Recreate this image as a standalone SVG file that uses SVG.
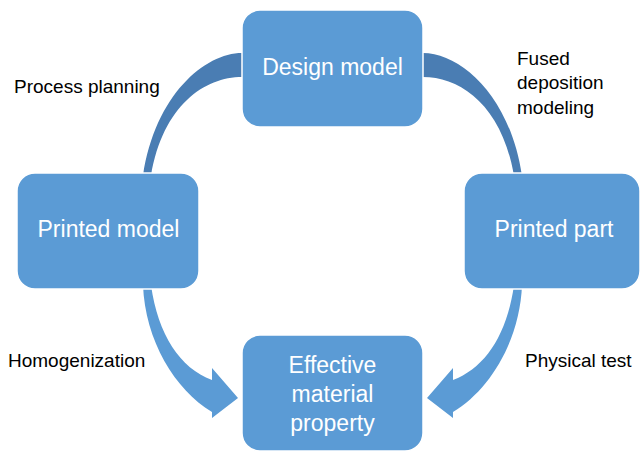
<svg xmlns="http://www.w3.org/2000/svg" width="641" height="452" viewBox="0 0 641 452">
  <style>
    .box { fill: #5b9bd5; stroke: #ffffff; stroke-width: 1.5; }
    .box-text { font-family: "Liberation Sans", Arial, sans-serif; font-size: 23px; fill: #ffffff; text-anchor: middle; }
    .label { font-family: "Liberation Sans", Arial, sans-serif; font-size: 19px; fill: #000000; }
    .arc-dark { fill: #4a7db3; }
    .arrow-light { fill: #5b9bd5; }
  </style>
  <rect width="641" height="452" fill="#ffffff"/>

  <!-- connectors: curved bands and arrows between the stages -->
  <g id="connectors">
    <!-- Design model -> Printed model (left band) -->
    <path id="arc-process-planning" class="arc-dark" d="M 250,53 L 242,53 C 205,53 155,95 143,176 L 151,176 C 163,105 205,77 242,77 L 250,77 Z"/>
    <!-- Design model -> Printed part (mirrored band) -->
    <path id="arc-fdm" class="arc-dark" transform="translate(665,0) scale(-1,1)" d="M 250,53 L 242,53 C 205,53 155,95 143,176 L 151,176 C 163,105 205,77 242,77 L 250,77 Z"/>
    <!-- Printed model -> Effective material property -->
    <path id="arrow-homogenization" class="arrow-light" d="M 143,285 C 145,340 175,390 212,412 L 212,418 L 238,398 L 212,368 L 212,380 C 180,368 158,335 151,285 Z"/>
    <!-- Printed part -> Effective material property (mirrored arrow) -->
    <path id="arrow-physical-test" class="arrow-light" transform="translate(665,0) scale(-1,1)" d="M 143,285 C 145,340 175,390 212,412 L 212,418 L 238,398 L 212,368 L 212,380 C 180,368 158,335 151,285 Z"/>
  </g>

  <g id="design-model">
    <rect class="box" x="242" y="10" width="181" height="117" rx="18"/>
    <text class="box-text" x="332.5" y="75">Design model</text>
  </g>

  <g id="printed-model">
    <rect class="box" x="17" y="173" width="182" height="116" rx="18"/>
    <text class="box-text" x="108.5" y="237">Printed model</text>
  </g>

  <g id="printed-part">
    <rect class="box" x="464" y="173" width="176" height="116" rx="18"/>
    <text class="box-text" x="554" y="237">Printed part</text>
  </g>

  <g id="effective-material-property">
    <rect class="box" x="242" y="335" width="181" height="116" rx="18"/>
    <text class="box-text" x="332.5" y="373">Effective</text>
    <text class="box-text" x="332.5" y="402">material</text>
    <text class="box-text" x="332.5" y="431">property</text>
  </g>

  <g id="labels">
    <text class="label" x="14" y="93">Process planning</text>
    <text class="label" x="517" y="65">Fused</text>
    <text class="label" x="517" y="89">deposition</text>
    <text class="label" x="517" y="114">modeling</text>
    <text class="label" x="8" y="367">Homogenization</text>
    <text class="label" x="525" y="367">Physical test</text>
  </g>
</svg>
